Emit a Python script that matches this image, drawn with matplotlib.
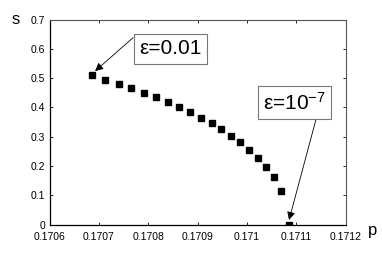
import matplotlib
matplotlib.use('Agg')
import matplotlib.pyplot as plt

plt.rcParams['font.family'] = ['Liberation Sans', 'DejaVu Sans']
plt.rcParams['mathtext.fontset'] = 'custom'
plt.rcParams['mathtext.rm'] = 'Liberation Sans'
plt.rcParams['mathtext.it'] = 'Liberation Sans'

# 数据
p = [0.1706856, 0.1707132, 0.1707404, 0.1707659, 0.1707917, 0.1708160,
     0.1708404, 0.1708633, 0.1708856, 0.1709073, 0.1709282, 0.1709479,
     0.1709675, 0.1709864, 0.1710037, 0.1710215, 0.1710385, 0.1710540,
     0.1710686, 0.1710848]
s = [0.510, 0.495, 0.480, 0.465, 0.450, 0.434, 0.417, 0.400, 0.384, 0.365,
     0.346, 0.325, 0.303, 0.281, 0.256, 0.228, 0.197, 0.161, 0.114, 0.0]
xticks = [0.1706, 0.1707, 0.1708, 0.1709, 0.1710, 0.1711, 0.1712]
xticklabels = ['0.1706', '0.1707', '0.1708', '0.1709', '0.171', '0.1711', '0.1712']
yticks = [0, 0.1, 0.2, 0.3, 0.4, 0.5, 0.6, 0.7]
yticklabels = ['0', '0.1', '0.2', '0.3', '0.4', '0.5', '0.6', '0.7']

fig = plt.figure(figsize=(3.82, 2.54), dpi=100)
ax = fig.add_axes([0.1296, 0.1157, 0.7754, 0.8075])

ax.plot(p, s, linestyle='none', marker='s', markersize=5, color='black')

ax.set_xlim(0.1706, 0.1712)
ax.set_ylim(0, 0.7)
ax.set_xticks(xticks)
ax.set_xticklabels(xticklabels)
ax.set_yticks(yticks)
ax.set_yticklabels(yticklabels)
ax.tick_params(direction='in', length=2.5, width=0.6, labelsize=7.5,
               top=True, right=True)
ax.tick_params(axis='x', pad=5)
ax.tick_params(axis='y', pad=3)
for side in ['left', 'bottom']:
    ax.spines[side].set_linewidth(0.9)
    ax.spines[side].set_color('black')
for side in ['top', 'right']:
    ax.spines[side].set_linewidth(0.8)
    ax.spines[side].set_color('#555555')

fig.text(16 / 382, 1 - 19 / 254, 's', fontsize=12, ha='center', va='center')
fig.text(373 / 382, 1 - 230 / 254, 'p', fontsize=12, ha='center', va='center')

box = dict(boxstyle='square,pad=0.25', facecolor='white', edgecolor='#777777', linewidth=0.8)
arrow = dict(arrowstyle='-|>', color='black', linewidth=0.6, mutation_scale=12,
             shrinkA=0, shrinkB=0)

ax.annotate('', xy=(0.1706923, 0.524), xytext=(0.1707694, 0.638), arrowprops=arrow)
ax.text(0.1708454, 0.600, 'ε=0.01', fontsize=15, ha='center', va='center', bbox=box)

ax.annotate('', xy=(0.1710852, 0.0157), xytext=(0.1711406, 0.364), arrowprops=arrow,
            annotation_clip=False)
ax.text(0.1710970, 0.417, r'ε=10$^{-7}$', fontsize=15, ha='center', va='center', bbox=box)

fig.savefig('out.png', dpi=100)
